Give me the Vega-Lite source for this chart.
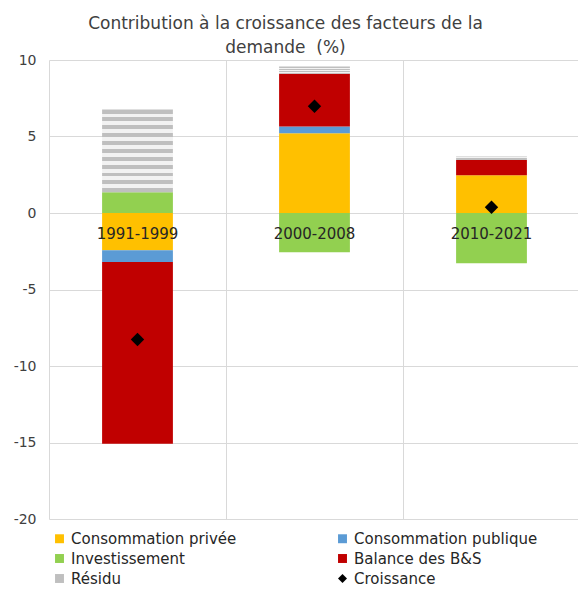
{
  "$schema": "https://vega.github.io/schema/vega-lite/v6.json",
  "width": 531,
  "height": 459,
  "autosize": {"type": "none"},
  "padding": {"left": 49, "top": 60, "right": 0, "bottom": 71},
  "background": "white",
  "title": {
    "text": ["Contribution à la croissance des facteurs de la", "demande\u00a0 (%)"],
    "font": "DejaVu Sans",
    "fontSize": 17,
    "fontWeight": "normal",
    "color": "#404040",
    "anchor": "middle",
    "lineHeight": 24,
    "offset": -4,
    "dx": -29
  },
  "datasets": {
    "contrib": [
      {"periode": "1991-1999", "serie": "Consommation privée", "rang": 1, "valeur": -2.43},
      {"periode": "1991-1999", "serie": "Consommation publique", "rang": 2, "valeur": -0.78},
      {"periode": "1991-1999", "serie": "Investissement", "rang": 3, "valeur": 1.36},
      {"periode": "1991-1999", "serie": "Balance des B&S", "rang": 4, "valeur": -11.87},
      {"periode": "1991-1999", "serie": "Résidu", "rang": 5, "valeur": 5.4},
      {"periode": "2000-2008", "serie": "Consommation privée", "rang": 1, "valeur": 5.22},
      {"periode": "2000-2008", "serie": "Consommation publique", "rang": 2, "valeur": 0.43},
      {"periode": "2000-2008", "serie": "Investissement", "rang": 3, "valeur": -2.56},
      {"periode": "2000-2008", "serie": "Balance des B&S", "rang": 4, "valeur": 3.45},
      {"periode": "2000-2008", "serie": "Résidu", "rang": 5, "valeur": 0.47},
      {"periode": "2010-2021", "serie": "Consommation privée", "rang": 1, "valeur": 2.47},
      {"periode": "2010-2021", "serie": "Consommation publique", "rang": 2, "valeur": 0.0},
      {"periode": "2010-2021", "serie": "Investissement", "rang": 3, "valeur": -3.28},
      {"periode": "2010-2021", "serie": "Balance des B&S", "rang": 4, "valeur": 1.0},
      {"periode": "2010-2021", "serie": "Résidu", "rang": 5, "valeur": 0.22}
    ],
    "croissance": [
      {"periode": "1991-1999", "serie": "Croissance", "valeur": -8.27},
      {"periode": "2000-2008", "serie": "Croissance", "valeur": 6.98},
      {"periode": "2010-2021", "serie": "Croissance", "valeur": 0.38}
    ],
    "periodes": [
      {"periode": "1991-1999", "zero": 0},
      {"periode": "2000-2008", "zero": 0},
      {"periode": "2010-2021", "zero": 0}
    ]
  },
  "encoding": {
    "x": {
      "field": "periode",
      "type": "nominal",
      "sort": ["1991-1999", "2000-2008", "2010-2021"],
      "scale": {"paddingInner": 0, "paddingOuter": 0},
      "axis": {
        "title": null,
        "labels": false,
        "ticks": false,
        "domain": false,
        "grid": true,
        "bandPosition": 0,
        "gridColor": "#d9d9d9",
        "gridWidth": 1
      }
    }
  },
  "layer": [
    {
      "data": {"name": "contrib"},
      "transform": [
        {"stack": "valeur", "groupby": ["periode"], "sort": [{"field": "rang", "order": "ascending"}], "offset": "zero", "as": ["v0", "v1"]}
      ],
      "layer": [
        {
          "transform": [{"filter": "datum.serie !== 'Résidu'"}],
          "mark": {"type": "bar", "width": {"band": 0.4}},
          "encoding": {
            "y": {
              "field": "v0",
              "type": "quantitative",
              "scale": {"domain": [-20, 10], "nice": false, "zero": false},
              "axis": {
                "title": null,
                "values": [-20, -15, -10, -5, 0, 5, 10],
                "labelExpr": "replace(datum.label, '−', '-')",
                "ticks": false,
                "domain": false,
                "grid": true,
                "gridColor": "#d9d9d9",
                "gridWidth": 1,
                "labelFont": "DejaVu Sans",
                "labelFontSize": 14,
                "labelColor": "#404040",
                "labelPadding": 13
              }
            },
            "y2": {"field": "v1"},
            "color": {
              "field": "serie",
              "type": "nominal",
              "scale": {
                "domain": ["Consommation privée", "Consommation publique", "Investissement", "Balance des B&S", "Résidu", "Croissance"],
                "range": ["#FFC000", "#5B9BD5", "#92D050", "#C00000", "#bfbfbf", "#000000"]
              },
              "legend": {
                "title": null,
                "orient": "none",
                "legendX": 3,
                "legendY": 471,
                "direction": "horizontal",
                "columns": 2,
                "columnPadding": 98,
                "rowPadding": 4,
                "symbolType": "square",
                "symbolSize": 80,
                "symbolStrokeWidth": 0,
                "labelFont": "DejaVu Sans",
                "labelFontSize": 15,
                "labelColor": "#262626",
                "labelOffset": 4,
                "labelLimit": 300
              }
            }
          }
        },
        {
          "transform": [{"filter": "datum.serie === 'Résidu'"}],
          "mark": {
            "type": "bar",
            "width": {"band": 0.4},
            "color": {
              "gradient": "linear",
              "x1": 0, "y1": 0, "x2": 0, "y2": 1,
              "stops": [
                {"offset": 0, "color": "#bfbfbf"}, {"offset": 0.0476, "color": "#bfbfbf"},
                {"offset": 0.0476, "color": "#f2f2f2"}, {"offset": 0.0952, "color": "#f2f2f2"},
                {"offset": 0.0952, "color": "#bfbfbf"}, {"offset": 0.1429, "color": "#bfbfbf"},
                {"offset": 0.1429, "color": "#f2f2f2"}, {"offset": 0.1905, "color": "#f2f2f2"},
                {"offset": 0.1905, "color": "#bfbfbf"}, {"offset": 0.2381, "color": "#bfbfbf"},
                {"offset": 0.2381, "color": "#f2f2f2"}, {"offset": 0.2857, "color": "#f2f2f2"},
                {"offset": 0.2857, "color": "#bfbfbf"}, {"offset": 0.3333, "color": "#bfbfbf"},
                {"offset": 0.3333, "color": "#f2f2f2"}, {"offset": 0.381, "color": "#f2f2f2"},
                {"offset": 0.381, "color": "#bfbfbf"}, {"offset": 0.4286, "color": "#bfbfbf"},
                {"offset": 0.4286, "color": "#f2f2f2"}, {"offset": 0.4762, "color": "#f2f2f2"},
                {"offset": 0.4762, "color": "#bfbfbf"}, {"offset": 0.5238, "color": "#bfbfbf"},
                {"offset": 0.5238, "color": "#f2f2f2"}, {"offset": 0.5714, "color": "#f2f2f2"},
                {"offset": 0.5714, "color": "#bfbfbf"}, {"offset": 0.619, "color": "#bfbfbf"},
                {"offset": 0.619, "color": "#f2f2f2"}, {"offset": 0.6667, "color": "#f2f2f2"},
                {"offset": 0.6667, "color": "#bfbfbf"}, {"offset": 0.7143, "color": "#bfbfbf"},
                {"offset": 0.7143, "color": "#f2f2f2"}, {"offset": 0.7619, "color": "#f2f2f2"},
                {"offset": 0.7619, "color": "#bfbfbf"}, {"offset": 0.8095, "color": "#bfbfbf"},
                {"offset": 0.8095, "color": "#f2f2f2"}, {"offset": 0.8571, "color": "#f2f2f2"},
                {"offset": 0.8571, "color": "#bfbfbf"}, {"offset": 0.9048, "color": "#bfbfbf"},
                {"offset": 0.9048, "color": "#f2f2f2"}, {"offset": 0.9524, "color": "#f2f2f2"},
                {"offset": 0.9524, "color": "#bfbfbf"}, {"offset": 1, "color": "#bfbfbf"}
              ]
            }
          },
          "encoding": {
            "y": {"field": "v0", "type": "quantitative"},
            "y2": {"field": "v1"}
          }
        }
      ]
    },
    {
      "data": {"name": "croissance"},
      "mark": {"type": "point", "filled": true, "opacity": 1, "size": 180},
      "encoding": {
        "y": {"field": "valeur", "type": "quantitative"},
        "color": {"field": "serie", "type": "nominal"},
        "shape": {
          "field": "serie",
          "type": "nominal",
          "scale": {
            "domain": ["Consommation privée", "Consommation publique", "Investissement", "Balance des B&S", "Résidu", "Croissance"],
            "range": ["square", "square", "square", "square", "square", "diamond"]
          }
        }
      }
    },
    {
      "data": {"name": "periodes"},
      "mark": {"type": "text", "font": "DejaVu Sans", "fontSize": 15, "color": "#262626", "baseline": "middle", "align": "center", "dy": 21},
      "encoding": {
        "y": {"field": "zero", "type": "quantitative"},
        "text": {"field": "periode"}
      }
    }
  ],
  "config": {
    "view": {"stroke": null}
  }
}
